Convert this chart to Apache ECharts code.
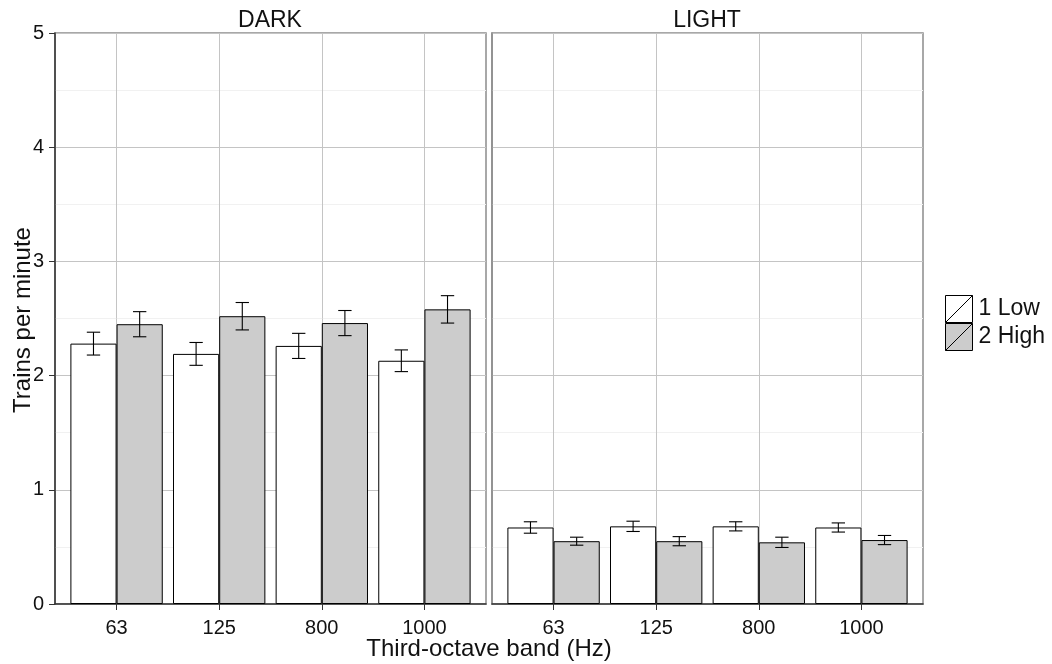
<!DOCTYPE html>
<html>
<head>
<meta charset="utf-8">
<script src="https://cdn.jsdelivr.net/npm/echarts@6/dist/echarts.min.js"></script>
<style>
  html, body { margin: 0; padding: 0; background: #fff; }
  #chart { width: 1052px; height: 664px; }
</style>
</head>
<body>
<div id="chart"></div>
<script>
// Third-octave bands (x categories) and the two noise levels
const bands = ['63', '125', '800', '1000'];
const levels = ['1 Low', '2 High'];
const panels = ['DARK', 'LIGHT'];

// Mean trains per minute with standard errors, per panel and level
const darkLow = [2.28, 2.19, 2.26, 2.13];
const darkLowErr = [0.10, 0.10, 0.11, 0.095];
const darkHigh = [2.45, 2.52, 2.46, 2.58];
const darkHighErr = [0.11, 0.12, 0.11, 0.12];
const lightLow = [0.67, 0.68, 0.68, 0.67];
const lightLowErr = [0.05, 0.045, 0.04, 0.04];
const lightHigh = [0.55, 0.55, 0.54, 0.56];
const lightHighErr = [0.035, 0.04, 0.045, 0.04];

const yTicks = [0, 1, 2, 3, 4, 5];

const FONT = 'Liberation Sans, Arial, sans-serif';
const fills = ['#ffffff', '#cccccc'];
const BORDER = '#8c8c8c';
const GRID = '#c4c4c4';
const AXIS = '#333333';
const TEXT = '#111111';

const chart = echarts.init(document.getElementById('chart'), null, { renderer: 'canvas' });

const gridBoxes = [
  { left: 55, top: 33, width: 431, height: 571 },
  { left: 492, top: 33, width: 431, height: 571 }
];

// bar pair width 0.9 of a unit; each bar is 0.45, centred ±0.225
const offsets = [-0.225, 0.225];

function positions() {
  return bands.map((_, i) => i + 1);
}

function barData(vals) {
  return vals.map((v, i) => [i + 1, v]);
}

function errData(vals, errs, off) {
  return vals.map((v, i) => [i + 1 + off, v, v - errs[i], v + errs[i]]);
}

function errorRender(params, api) {
  const x = api.value(0);
  const lo = api.coord([x, api.value(2)]);
  const hi = api.coord([x, api.value(3)]);
  const half = api.size([1, 0])[0] * 0.065;
  const style = { stroke: '#000', lineWidth: 1.1, fill: null };
  return {
    type: 'group',
    children: [
      { type: 'line', shape: { x1: lo[0], y1: lo[1], x2: hi[0], y2: hi[1] }, style },
      { type: 'line', shape: { x1: lo[0] - half, y1: lo[1], x2: lo[0] + half, y2: lo[1] }, style },
      { type: 'line', shape: { x1: hi[0] - half, y1: hi[1], x2: hi[0] + half, y2: hi[1] }, style }
    ]
  };
}

const xAxes = gridBoxes.map((g, k) => ({
  type: 'value',
  gridIndex: k,
  min: 0.4,
  max: 4.6,
  axisLine: { show: true, lineStyle: { color: AXIS, width: 1.5 } },
  axisTick: { show: true, customValues: positions(), length: 6, lineStyle: { color: AXIS, width: 1 } },
  axisLabel: {
    show: true,
    customValues: positions(),
    formatter: v => bands[Math.round(v) - 1] || '',
    color: TEXT, fontFamily: FONT, fontSize: 20, margin: 14
  },
  splitLine: { show: true, lineStyle: { color: GRID, width: 1 } }
}));

const yAxes = gridBoxes.map((g, k) => ({
  type: 'value',
  gridIndex: k,
  min: yTicks[0],
  max: yTicks[yTicks.length - 1],
  interval: 1,
  axisLine: { show: true, lineStyle: { color: k === 0 ? AXIS : BORDER, width: 1.5 } },
  axisTick: { show: k === 0, length: 6, lineStyle: { color: AXIS } },
  axisLabel: { show: k === 0, color: TEXT, fontFamily: FONT, fontSize: 20, margin: 11 },
  splitLine: { show: true, lineStyle: { color: GRID, width: 1 } },
  minorTick: { show: false, splitNumber: 2 },
  minorSplitLine: { show: true, lineStyle: { color: '#f1f1f1', width: 1 } }
}));

const panelData = [
  [[darkLow, darkLowErr], [darkHigh, darkHighErr]],
  [[lightLow, lightLowErr], [lightHigh, lightHighErr]]
];

const series = [];
panelData.forEach((pair, k) => {
  pair.forEach(([vals, errs], j) => {
    series.push({
      name: levels[j],
      type: 'bar',
      xAxisIndex: k,
      yAxisIndex: k,
      data: barData(vals),
      barGap: '0%',
      barCategoryGap: '10%',
      itemStyle: { color: fills[j], borderColor: '#000', borderWidth: 1 },
      emphasis: { disabled: true },
      silent: true,
      z: 3
    });
  });
  pair.forEach(([vals, errs], j) => {
    series.push({
      type: 'custom',
      xAxisIndex: k,
      yAxisIndex: k,
      data: errData(vals, errs, offsets[j]),
      encode: { x: 0, y: [2, 3] },
      renderItem: errorRender,
      silent: true,
      z: 4
    });
  });
});

const titleStyle = { fontFamily: FONT, fontSize: 23, fontWeight: 'normal', color: TEXT };

const option = {
  animation: false,
  backgroundColor: '#fff',
  textStyle: { fontFamily: FONT },
  grid: gridBoxes.map(g => Object.assign({ show: true, borderColor: BORDER, borderWidth: 1.5, backgroundColor: '#fff', containLabel: false }, g)),
  xAxis: xAxes,
  yAxis: yAxes,
  title: [
    { text: panels[0], left: 270, top: 9, textAlign: 'center', padding: 0, textStyle: titleStyle },
    { text: panels[1], left: 707, top: 9, textAlign: 'center', padding: 0, textStyle: titleStyle },
    { text: 'Third-octave band (Hz)', left: 489, top: 637, textAlign: 'center', padding: 0, textStyle: Object.assign({}, titleStyle, { fontSize: 24 }) }
  ],
  graphic: [
    {
      type: 'text',
      x: 11, y: 320,
      rotation: Math.PI / 2,
      style: { text: 'Trains per minute', font: '24px ' + FONT, fill: TEXT, align: 'center', verticalAlign: 'top' },
      silent: true
    }
  ],
  legend: {
    data: levels,
    orient: 'vertical',
    left: 945,
    top: 295,
    itemWidth: 27,
    itemHeight: 27,
    itemGap: 0,
    icon: 'path://M0,0L10,0L10,10L0,10Z M0,10L10,0',
    itemStyle: { borderColor: '#000', borderWidth: 1 },
    textStyle: { fontFamily: FONT, fontSize: 23, color: TEXT, padding: [0, 0, 0, 1] },
    selectedMode: false,
    padding: 0
  },
  series
};

chart.setOption(option);
</script>
</body>
</html>
